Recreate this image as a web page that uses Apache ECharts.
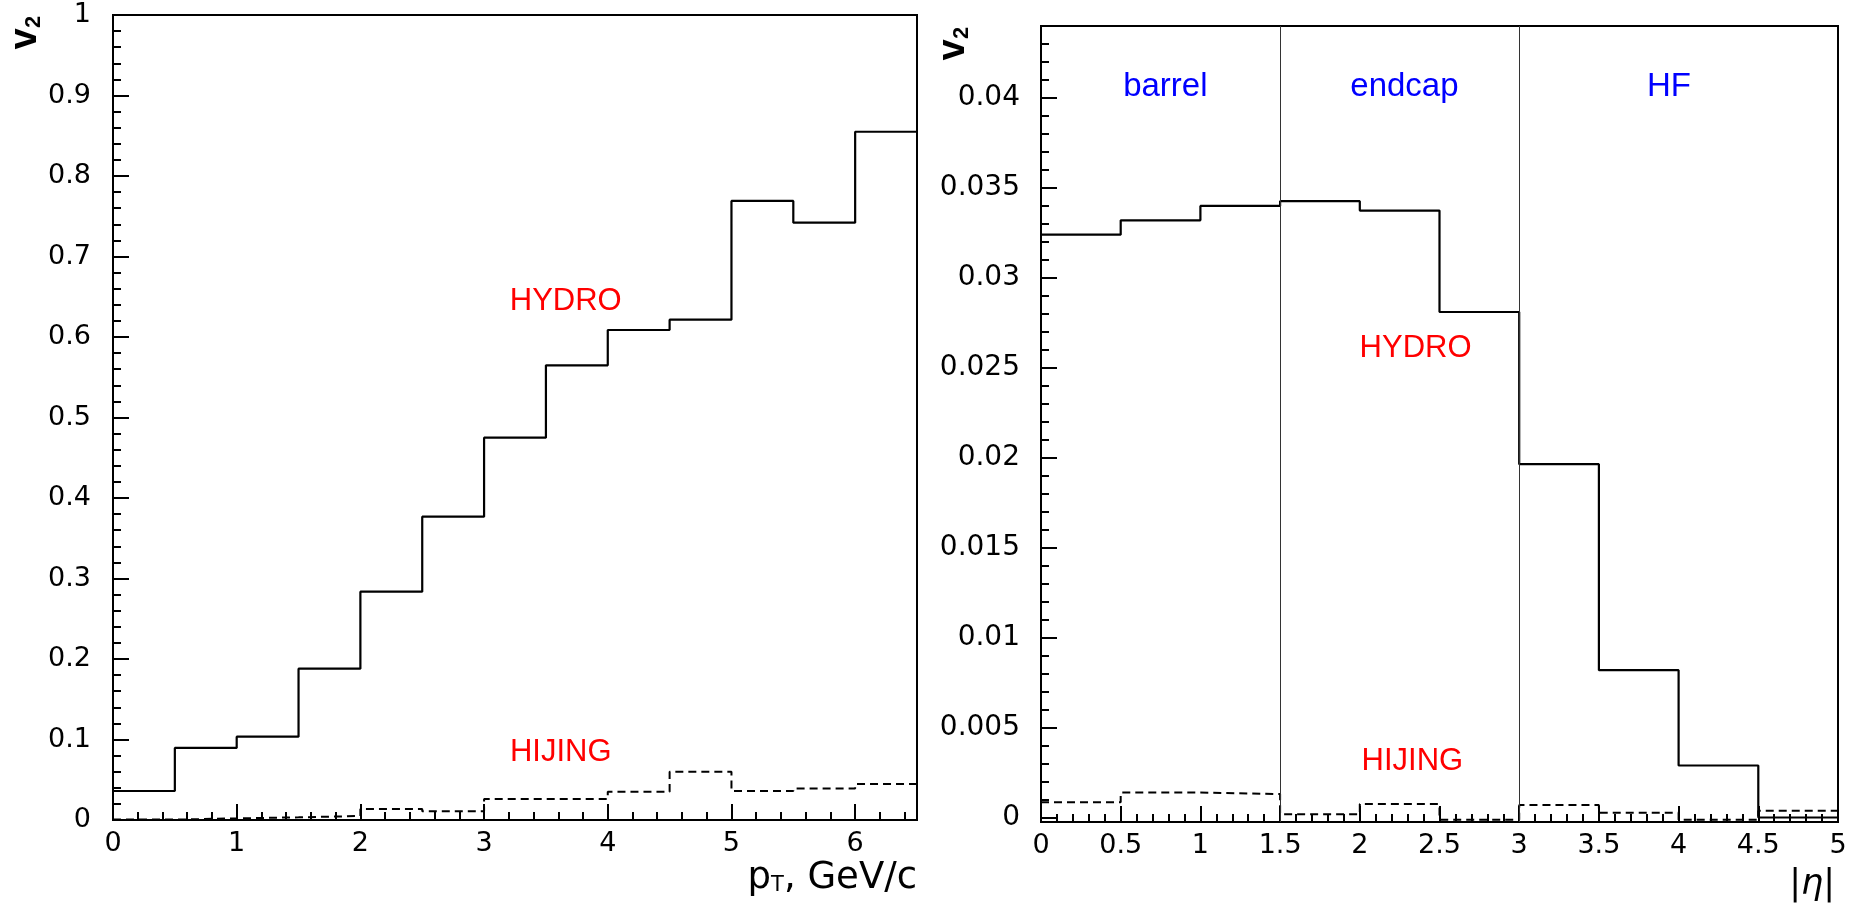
<!DOCTYPE html>
<html>
<head>
<meta charset="utf-8">
<script src="https://cdn.jsdelivr.net/npm/echarts@6/dist/echarts.min.js"></script>
<style>html,body{margin:0;padding:0;background:#fff}#c{width:1853px;height:909px}</style>
</head>
<body>
<div id="c"></div>
<script>
// ---- data: left panel (v2 vs pT) ----
const ptEdges   = [0, 0.5, 1, 1.5, 2, 2.5, 3, 3.5, 4, 4.5, 5, 5.5, 6, 6.5];
const hydroPt   = [0.036, 0.0895, 0.1035, 0.188, 0.2836, 0.3768, 0.4749, 0.5648, 0.6087, 0.6215, 0.769, 0.742, 0.855];
const hijingPt  = [0.0005, 0.002, 0.0033, 0.005, 0.0137, 0.011, 0.026, 0.026, 0.035, 0.060, 0.036, 0.039, 0.0447];
const ptTicks   = [0, 1, 2, 3, 4, 5, 6];
const v2PtTicks = [0, 0.1, 0.2, 0.3, 0.4, 0.5, 0.6, 0.7, 0.8, 0.9, 1];

// ---- data: right panel (v2 vs |eta|) ----
const etaEdges   = [0, 0.5, 1, 1.5, 2, 2.5, 3, 3.5, 4, 4.5, 5];
const hydroEta   = [0.0324, 0.0332, 0.0340, 0.03426, 0.03374, 0.0281, 0.01964, 0.00819, 0.00289, 0.0];
const hijingEta  = [0.00085, 0.00139, 0.0013, 0.00018, 0.00075, -0.00012, 0.0007, 0.00027, -0.00012, 0.00038];
const etaTicks   = [0, 0.5, 1, 1.5, 2, 2.5, 3, 3.5, 4, 4.5, 5];
const v2EtaTicks = [0, 0.005, 0.01, 0.015, 0.02, 0.025, 0.03, 0.035, 0.04];
const regionNames  = ['barrel', 'endcap', 'HF'];
const regionBounds = [1.5, 3];

// annotation anchors in data coordinates
const leftNotes  = [{t: 'HYDRO', x: 3.66, y: 0.644}, {t: 'HIJING', x: 3.62, y: 0.0845}];
const rightNotes = [{t: 'HYDRO', x: 2.35, y: 0.0261}, {t: 'HIJING', x: 2.33, y: 0.00312}];
const regionLabelX = [0.78, 2.28, 3.94];
const regionLabelY = 0.0406;

function minorTicks(lo, hi, step, majors) {
  const out = [];
  for (let k = Math.ceil(lo / step - 1e-9); k * step <= hi + 1e-12; k++) {
    const v = +(k * step).toFixed(6);
    if (!majors.some(m => Math.abs(m - v) < step * 1e-3)) out.push(v);
  }
  return out;
}
function stepData(edges, vals) {
  const d = vals.map((v, i) => [edges[i], v]);
  d.push([edges[edges.length - 1], vals[vals.length - 1]]);
  return d;
}

const TICKFONT = 'DejaVu Sans';
const TEXTFONT = 'Liberation Sans';
const chart = echarts.init(document.getElementById('c'), null, {renderer: 'canvas'});

function majorAxis(gridIndex, min, max, ticks, fontSize, margin, pos) {
  return {
    type: 'value', gridIndex, min, max, position: pos,
    axisLine: {show: true, onZero: false, lineStyle: {color: '#000', width: 2}},
    axisTick: {show: true, inside: true, length: 16, customValues: ticks, lineStyle: {color: '#000', width: 2}},
    axisLabel: {show: true, customValues: ticks, fontSize, fontFamily: TICKFONT, color: '#000', margin,
                formatter: v => String(+v.toFixed(6))},
    splitLine: {show: false}
  };
}
function minorAxis(gridIndex, min, max, ticks, pos) {
  return {
    type: 'value', gridIndex, min, max, position: pos,
    axisLine: {show: false, onZero: false},
    axisTick: {show: true, inside: true, length: 8, customValues: ticks, lineStyle: {color: '#000', width: 2}},
    axisLabel: {show: false},
    splitLine: {show: false}
  };
}

const yEtaMin = -0.00025, yEtaMax = 0.044;

chart.setOption({
  animation: false,
  backgroundColor: '#fff',
  grid: [
    {left: 113, top: 15, width: 804, height: 805, show: true, borderColor: '#000', borderWidth: 2, backgroundColor: 'transparent'},
    {left: 1041, top: 26, width: 797, height: 796, show: true, borderColor: '#000', borderWidth: 2, backgroundColor: 'transparent'}
  ],
  xAxis: [
    majorAxis(0, 0, 6.5, ptTicks, 27, 10, 'bottom'),
    minorAxis(0, 0, 6.5, minorTicks(0, 6.5, 0.2, ptTicks), 'bottom'),
    majorAxis(1, 0, 5, etaTicks, 27, 10, 'bottom'),
    minorAxis(1, 0, 5, minorTicks(0, 5, 0.1, etaTicks), 'bottom')
  ],
  yAxis: [
    majorAxis(0, 0, 1, v2PtTicks, 27, 22, 'left'),
    minorAxis(0, 0, 1, minorTicks(0, 1, 0.02, v2PtTicks), 'left'),
    majorAxis(1, yEtaMin, yEtaMax, v2EtaTicks, 28, 21, 'left'),
    minorAxis(1, yEtaMin, yEtaMax, minorTicks(0, yEtaMax, 0.001, v2EtaTicks), 'left')
  ],
  series: [
    {type: 'line', name: 'HYDRO pT', xAxisIndex: 0, yAxisIndex: 0, step: 'end', symbol: 'none',
     data: stepData(ptEdges, hydroPt), lineStyle: {color: '#000', width: 2.2}, z: 3},
    {type: 'line', name: 'HIJING pT', xAxisIndex: 0, yAxisIndex: 0, step: 'end', symbol: 'none',
     data: stepData(ptEdges, hijingPt), lineStyle: {color: '#000', width: 2, type: [8, 5]}, z: 3},
    {type: 'line', name: 'HYDRO eta', xAxisIndex: 2, yAxisIndex: 2, step: 'end', symbol: 'none',
     data: stepData(etaEdges, hydroEta), lineStyle: {color: '#000', width: 2.2}, z: 3,
     markLine: {silent: true, symbol: 'none', label: {show: false},
                lineStyle: {color: '#333', width: 1, type: 'solid'},
                data: regionBounds.map(b => ({xAxis: b}))}},
    {type: 'line', name: 'HIJING eta', xAxisIndex: 2, yAxisIndex: 2, step: 'end', symbol: 'none',
     data: stepData(etaEdges, hijingEta), lineStyle: {color: '#000', width: 2, type: [8, 5]}, z: 3}
  ]
});

// ---- text annotations (placed from data coordinates) ----
const ctx = document.createElement('canvas').getContext('2d');
function measure(text, size, family, weight, style) {
  ctx.font = `${style || 'normal'} ${weight || 'normal'} ${size}px "${family}"`;
  return ctx.measureText(text).width;
}
function txt(x, y, text, color, size) {
  return {type: 'text', x, y, z: 10, silent: true,
    style: {text, fill: color, fontSize: size, fontFamily: TEXTFONT, align: 'center', verticalAlign: 'middle'}};
}
const graphics = [];
leftNotes.forEach(n => {
  const p = chart.convertToPixel({gridIndex: 0}, [n.x, n.y]);
  graphics.push(txt(p[0], p[1], n.t, '#ff0000', 31));
});
rightNotes.forEach(n => {
  const p = chart.convertToPixel({gridIndex: 1}, [n.x, n.y]);
  graphics.push(txt(p[0], p[1], n.t, '#ff0000', 31));
});
regionNames.forEach((name, i) => {
  const p = chart.convertToPixel({gridIndex: 1}, [regionLabelX[i], regionLabelY]);
  graphics.push(txt(p[0], p[1], name, '#0000ff', 33));
});

// x-axis title left: p_T, GeV/c (right aligned at axis end)
{
  const end = chart.convertToPixel({gridIndex: 0}, [6.5, 0]);
  const R = end[0], Y = end[1] + 58;
  const big = 37, small = 21;
  const rest = ', GeV/c';
  const wRest = measure(rest, big, TICKFONT);
  const wT = measure('T', small, TICKFONT);
  const mk = (x, y, t, s, align) => ({type: 'text', x, y, z: 10, silent: true,
      style: {text: t, fill: '#000', fontSize: s, fontFamily: TICKFONT, align, verticalAlign: 'middle'}});
  graphics.push(mk(R, Y, rest, big, 'right'));
  graphics.push(mk(R - wRest, Y + 8, 'T', small, 'right'));
  graphics.push(mk(R - wRest - wT, Y, 'p', big, 'right'));
}
// x-axis title right: |eta|
{
  const end = chart.convertToPixel({gridIndex: 1}, [5, yEtaMin]);
  graphics.push({type: 'text', x: end[0] - 3, y: end[1] + 63, z: 10, silent: true,
    style: {text: '{a||}{b|η}{a||}', align: 'right', verticalAlign: 'middle', fill: '#000',
      rich: {a: {fontSize: 35, fontFamily: TICKFONT, fill: '#000'},
             b: {fontSize: 35, fontFamily: TICKFONT, fontStyle: 'italic', fill: '#000'}}}});
}
// y-axis titles: v_2, rotated
function v2Title(cx, cy) {
  return {type: 'group', x: cx, y: cy, rotation: Math.PI / 2, z: 10, silent: true,
    children: [
      {type: 'text', x: -7, y: -1, style: {text: 'v', fontSize: 38, fontWeight: 'bold', fontFamily: TEXTFONT,
        fill: '#000', align: 'center', verticalAlign: 'middle'}},
      {type: 'text', x: 10, y: 7, style: {text: '2', fontSize: 22, fontWeight: 'bold', fontFamily: TEXTFONT,
        fill: '#000', align: 'center', verticalAlign: 'middle'}}
    ]};
}
graphics.push(v2Title(27, 32));
graphics.push(v2Title(955, 43));

chart.setOption({graphic: graphics});
</script>
</body>
</html>
